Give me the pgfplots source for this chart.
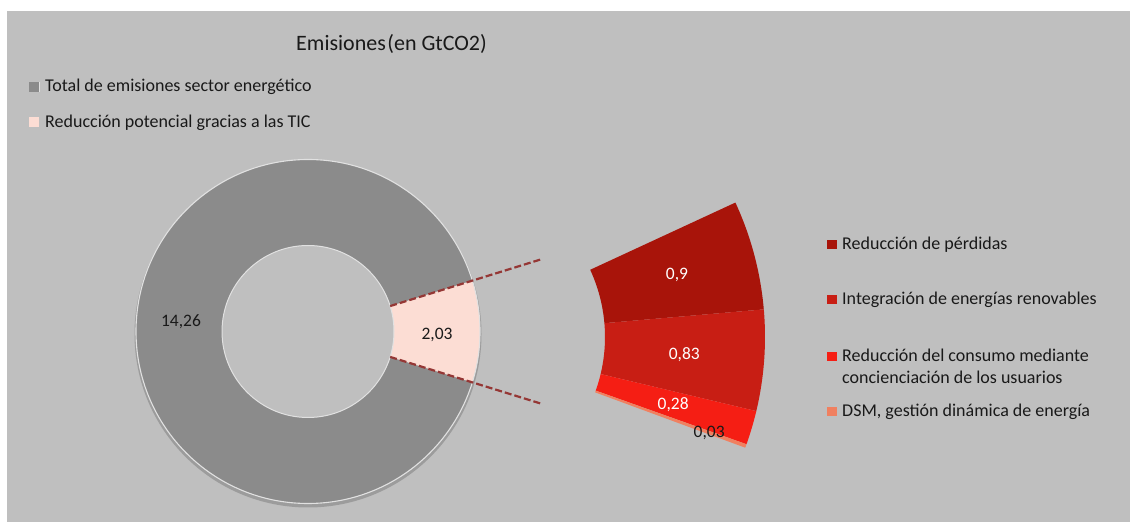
\documentclass[border=0pt]{standalone}
\usepackage{pgfplots}
\pgfplotsset{compat=1.18}
\usepackage{fontspec}
\setmainfont{Carlito}
\usetikzlibrary{calc}

\definecolor{bgGray}{RGB}{191,191,191}
\definecolor{ringGray}{RGB}{139,139,139}
\definecolor{ringEdge}{RGB}{225,225,225}
\definecolor{ticPink}{RGB}{252,221,212}
\definecolor{slA}{RGB}{168,20,10}
\definecolor{slB}{RGB}{200,30,20}
\definecolor{slC}{RGB}{245,30,20}
\definecolor{slD}{RGB}{240,128,96}
\definecolor{dashRed}{RGB}{149,55,53}
\definecolor{txt}{RGB}{25,25,25}

% values in GtCO2
\def\total{14.26}
\def\tic{2.03}
\def\vA{0.90}
\def\vB{0.83}
\def\vC{0.28}
\def\vD{0.03}

\newcommand{\fsTitle}{\fontsize{22}{26}\selectfont}
\newcommand{\fsLeg}{\fontsize{18}{22}\selectfont}
\newcommand{\fsData}{\fontsize{17.5}{21}\selectfont}

% sector: center x, center y, inner r, outer r, start, end, colour
\newcommand{\sector}[7]{%
  \fill[#7] ($(axis cs:#1,#2)+(#5:#4pt)$) arc[start angle=#5, end angle=#6, radius=#4pt]
    -- ($(axis cs:#1,#2)+(#6:#3pt)$) arc[start angle=#6, end angle=#5, radius=#3pt] -- cycle;}
\newcommand{\legsq}[3]{\fill[#3] (axis cs:#1,#2) rectangle ++(10pt,9.5pt);}

% angles of the detail ring
\pgfmathsetmacro\dpu{360/(\total+\tic)}
\pgfmathsetmacro\aS{2.3+(\vA+\vB+\vC+\vD)*\dpu/2}
\pgfmathsetmacro\aA{\aS-\vA*\dpu}
\pgfmathsetmacro\aB{\aA-\vB*\dpu}
\pgfmathsetmacro\aC{\aB-\vC*\dpu}
\pgfmathsetmacro\aD{\aC-\vD*\dpu}
\pgfmathsetmacro\mA{(\aS+\aA)/2}
\pgfmathsetmacro\mB{(\aA+\aB)/2}
\pgfmathsetmacro\mC{(\aB+\aC)/2}
\pgfmathsetmacro\mD{(\aC+\aD)/2}
% half angle of the TIC slice in the left ring, as drawn
\def\ticHalf{17.2}

\begin{document}
\begin{tikzpicture}
\begin{axis}[
    width=1130pt, height=522pt, scale only axis,
    xmin=0, xmax=1130, ymin=0, ymax=522,
    hide axis, clip=false,
]
\fill[white] (axis cs:0,0) rectangle (axis cs:1130,522);
\fill[bgGray] (axis cs:7,0) rectangle (axis cs:1130,511);

% left ring
\fill[black, opacity=0.18] (axis cs:308,188) circle[radius=173.5pt];
\fill[ringGray, even odd rule] (axis cs:308,190.5) circle[radius=172pt] (axis cs:308,190.5) circle[radius=86pt];
\fill[bgGray] (axis cs:308,190.5) circle[radius=86pt];
\sector{308}{190.5}{86}{172}{\ticHalf}{-\ticHalf}{ticPink}
\draw[ringEdge, line width=1.1pt] (axis cs:308,190.5) circle[radius=172pt];
\draw[ringEdge, line width=1pt] (axis cs:308,190.5) circle[radius=86pt];

% connectors
\draw[dashRed, line width=2.2pt, dash pattern=on 7pt off 3pt]
  ($(axis cs:308,190.5)+(\ticHalf:86pt)$) -- ($(axis cs:308,190.5)+(\ticHalf:246pt)$);
\draw[dashRed, line width=2.2pt, dash pattern=on 7pt off 3pt]
  ($(axis cs:308,190.5)+(-\ticHalf:86pt)$) -- ($(axis cs:308,190.5)+(-\ticHalf:246pt)$);

% detail ring
\sector{445}{185}{160}{320}{\aS}{\aA}{slA}
\sector{445}{185}{160}{320}{\aA}{\aB}{slB}
\sector{445}{185}{160}{320}{\aB}{\aC}{slC}
\sector{445}{185}{160}{320}{\aC}{\aD}{slD}

% data labels
\node[font=\fsData, text=txt] at (axis cs:181,200) {14,26};
\node[font=\fsData, text=txt] at (axis cs:437,187) {2,03};
\node[font=\fsData, text=white] at ($(axis cs:445,185)+(\mA:240pt)$) {0,9};
\node[font=\fsData, text=white] at ($(axis cs:445,185)+(\mB:240pt)$) {0,83};
\node[font=\fsData, text=white] at ($(axis cs:445,185)+(\mC:238pt)$) {0,28};
\node[font=\fsData, text=txt] at ($(axis cs:445,185)+(\mD:281pt)$) {0,03};

% title
\node[font=\fsTitle, text=txt, anchor=base] at (axis cs:391.5,471.3) {Emisiones\hspace{1.5pt}(en GtCO2)};

% legend left
\fill[ringEdge] (axis cs:28.5,429.8) rectangle ++(11pt,10.4pt);
\legsq{29.0}{430.3}{ringGray}
\node[font=\fsLeg, text=txt, anchor=base west, inner sep=0pt] at (axis cs:45,430) {Total de emisiones sector energético};
\legsq{29}{395}{ticPink}
\node[font=\fsLeg, text=txt, anchor=base west, inner sep=0pt] at (axis cs:45,394) {Reducción potencial gracias a las TIC};

% legend right
\legsq{827}{272.5}{slA}
\node[font=\fsLeg, text=txt, anchor=base west, inner sep=0pt] at (axis cs:842,272) {Reducción de pérdidas};
\legsq{827}{217.5}{slB}
\node[font=\fsLeg, text=txt, anchor=base west, inner sep=0pt] at (axis cs:842,217) {Integración de energías renovables};
\legsq{827}{160.8}{slC}
\node[font=\fsLeg, text=txt, anchor=base west, inner sep=0pt] at (axis cs:842,160.3) {Reducción del consumo mediante};
\node[font=\fsLeg, text=txt, anchor=base west, inner sep=0pt] at (axis cs:842,138.7) {concienciación de los usuarios};
\legsq{827}{105.8}{slD}
\node[font=\fsLeg, text=txt, anchor=base west, inner sep=0pt] at (axis cs:842,105.3) {DSM, gestión dinámica de energía};
\end{axis}
\end{tikzpicture}
\end{document}
